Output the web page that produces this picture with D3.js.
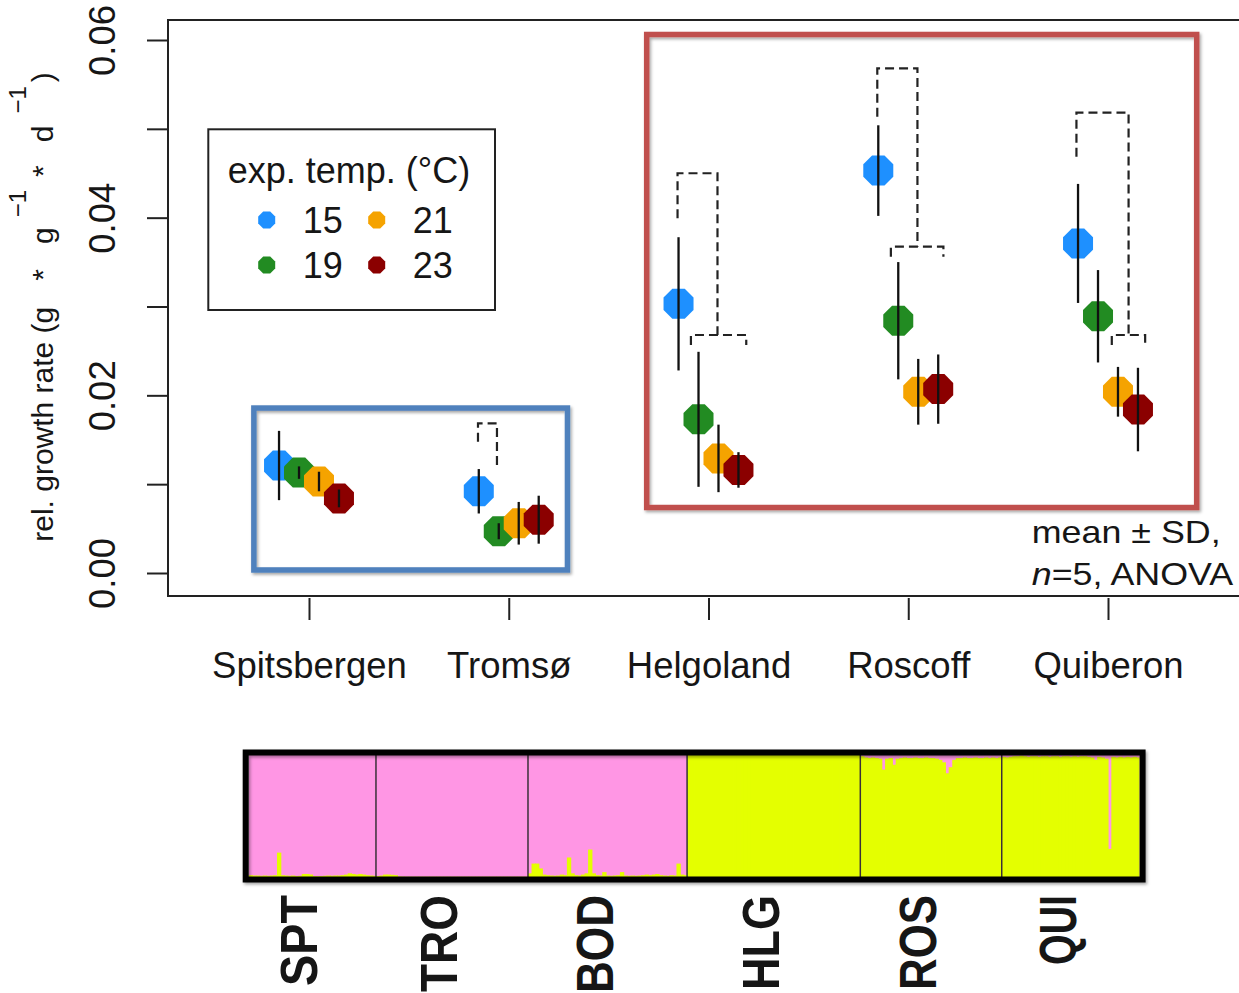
<!DOCTYPE html>
<html>
<head>
<meta charset="utf-8">
<script src="https://cdn.jsdelivr.net/npm/d3@7"></script>
<style>
  body { margin: 0; background: #fff; }
  svg { display: block; }
  text { font-family: "Liberation Sans", Arial, sans-serif; fill: #161616; }
</style>
</head>
<body>
<svg id="chart" width="1239" height="993"></svg>
<script>
// ---- growth experiment ----
const sites = ["Spitsbergen", "Tromsø", "Helgoland", "Roscoff", "Quiberon"];
const temps = [15, 19, 21, 23];
const tempColors = ["#1e90ff", "#228b22", "#f5a300", "#8b0000"];

// mean relative growth rate per site (g * g-1 * d-1), one array per temperature
const mean15 = [0.0121, 0.0092, 0.0303, 0.0453, 0.0371];
const mean19 = [0.0113, 0.0047, 0.0173, 0.0284, 0.0289];
const mean21 = [0.0103, 0.0056, 0.0129, 0.0204, 0.0204];
const mean23 = [0.0084, 0.0060, 0.0116, 0.0207, 0.0184];
// standard deviations, same layout
const sd15 = [0.0039, 0.0025, 0.0075, 0.0051, 0.0067];
const sd19 = [0.0007, 0.0009, 0.0076, 0.0066, 0.0052];
const sd21 = [0.0011, 0.0024, 0.0038, 0.0037, 0.0028];
const sd23 = [0.0010, 0.0027, 0.0020, 0.0039, 0.0047];

const yTicks = [0, 0.01, 0.02, 0.03, 0.04, 0.05, 0.06];
const yTickLabels = ["0.00", "", "0.02", "", "0.04", "", "0.06"];

// ANOVA grouping brackets: site index, x offsets (site units), top level and leg ends
const bracketSite = [1, 2, 2, 3, 3, 4, 4];
const bracketX1 = [-0.154, -0.155, -0.088, -0.155, -0.087, -0.158, 0.019];
const bracketX2 = [-0.059, 0.045, 0.189, 0.046, 0.176, 0.103, 0.186];
const bracketTop = [0.01685, 0.0450, 0.02679, 0.0568, 0.03673, 0.05182, 0.02679];
const bracketEnd1 = [0.01478, 0.03993, 0.02567, 0.05137, 0.03561, 0.04687, 0.02567];
const bracketEnd2 = [0.0116, 0.02679, 0.02567, 0.03673, 0.03561, 0.02679, 0.02567];

// ---- population structure (proportion of cluster 2 per individual) ----
const popNames = ["SPT", "TRO", "BOD", "HLG", "ROS", "QUI"];
const qSPT = [0.015, 0.012, 0.012, 0.01, 0.012, 0.01, 0.012, 0.015, 0.2, 0.015, 0.012, 0.01,
  0.012, 0.008, 0.01, 0.025, 0.025, 0.02, 0.008, 0.006, 0.008, 0.01, 0.012, 0.01,
  0.012, 0.012, 0.015, 0.02, 0.03, 0.025, 0.02, 0.025, 0.02, 0.015, 0.012, 0.01];
const qTRO = [0.008, 0.012, 0.02, 0.02, 0.018, 0.015, 0.004, 0.003, 0.002, 0.002, 0.002,
  0.002, 0.002, 0.002, 0.002, 0.002, 0.002, 0.002, 0.002, 0.002, 0.002, 0.002, 0.002,
  0.002, 0.002, 0.002, 0.002, 0.002, 0.002, 0.002, 0.002, 0.002, 0.002, 0.002, 0.002,
  0.002, 0.002, 0.002, 0.002, 0.002, 0.002, 0.002, 0.002];
const qBOD = [0.03, 0.11, 0.11, 0.07, 0.02, 0.015, 0.012, 0.01, 0.012, 0.02, 0.015, 0.16,
  0.03, 0.015, 0.012, 0.02, 0.03, 0.225, 0.03, 0.015, 0.012, 0.04, 0.012, 0.01, 0.012,
  0.015, 0.04, 0.012, 0.01, 0.012, 0.01, 0.012, 0.015, 0.02, 0.015, 0.02, 0.025, 0.015,
  0.012, 0.01, 0.015, 0.012, 0.11, 0.02, 0.015];
const qHLG = [1, 1, 1, 1, 1, 1, 1, 1, 1, 1, 1, 1, 1, 1, 1, 1, 1, 1, 1, 1, 1, 1, 1, 1, 1,
  1, 1, 1, 1, 1, 1, 1, 1, 1, 1, 1, 1, 1, 1, 1, 1, 1, 1, 1, 1, 1, 1, 1, 1];
const qROS = [0.99, 0.98, 0.975, 0.98, 0.975, 0.97, 0.88, 0.97, 0.975, 0.92, 0.97, 0.975,
  0.98, 0.975, 0.975, 0.98, 0.975, 0.975, 0.98, 0.975, 0.975, 0.97, 0.96, 0.94, 0.85,
  0.9, 0.96, 0.975, 0.975, 0.98, 0.975, 0.975, 0.98, 0.975, 0.975, 0.98, 0.975, 0.98,
  0.975, 0.98];
const qQUI = [0.985, 0.98, 0.985, 0.99, 0.99, 0.995, 0.99, 0.985, 0.99, 0.99, 0.985, 0.99,
  0.99, 0.985, 0.99, 0.99, 0.985, 0.99, 0.99, 0.985, 0.99, 0.985, 0.99, 0.99, 0.985,
  0.98, 0.96, 0.985, 0.98, 0.97, 0.23, 0.985, 0.98, 0.985, 0.98, 0.985, 0.98, 0.985, 0.98];

// ---- layout ----
const svg = d3.select("#chart");
const textColor = "#161616";
const frame = { left: 168, top: 20, right: 1300, bottom: 596 };

const defs = svg.append("defs");
const shadow = defs.append("filter").attr("id", "shadow")
  .attr("x", "-5%").attr("y", "-5%").attr("width", "110%").attr("height", "115%");
shadow.append("feDropShadow").attr("dx", 1.5).attr("dy", 2).attr("stdDeviation", 1.5)
  .attr("flood-color", "#000").attr("flood-opacity", 0.35);

const y = d3.scaleLinear().domain([0, 0.06]).range([573, 40]);
const x = d3.scaleLinear().domain([0, sites.length - 1]).range([309, 1108]);
const tempOffset = d3.scaleLinear().domain([0, temps.length - 1]).range([-0.15, 0.15]);

const means = [mean15, mean19, mean21, mean23];
const sds = [sd15, sd19, sd21, sd23];

// plot frame
svg.append("rect")
  .attr("x", frame.left).attr("y", frame.top)
  .attr("width", frame.right - frame.left).attr("height", frame.bottom - frame.top)
  .attr("fill", "none").attr("stroke", "#222").attr("stroke-width", 2);

// y axis
const yAxis = svg.append("g").attr("transform", `translate(${frame.left},0)`)
  .call(d3.axisLeft(y).tickValues(yTicks).tickSize(21).tickFormat((d, i) => yTickLabels[i]));
yAxis.attr("font-family", null);
yAxis.select(".domain").remove();
yAxis.selectAll(".tick line").attr("stroke", "#222").attr("stroke-width", 2);
yAxis.selectAll(".tick text")
  .attr("x", 0).attr("y", 0).attr("dy", 0)
  .attr("text-anchor", "middle")
  .attr("transform", "translate(-53,0) rotate(-90)")
  .attr("font-size", 36.5).attr("fill", textColor);

// x axis
const xAxis = svg.append("g").attr("transform", `translate(0,${frame.bottom + 2})`)
  .call(d3.axisBottom(x).tickValues(d3.range(sites.length)).tickSize(22).tickFormat(i => sites[i]));
xAxis.attr("font-family", null);
xAxis.select(".domain").remove();
xAxis.selectAll(".tick line").attr("stroke", "#222").attr("stroke-width", 2);
xAxis.selectAll(".tick text").attr("y", 80).attr("dy", 0)
  .attr("font-size", 36.5).attr("fill", textColor);

// y axis title with superscripts (plotmath-like spacing)
const yTitle = svg.append("text")
  .attr("transform", "translate(53,307) rotate(-90)")
  .attr("text-anchor", "middle").attr("font-size", 30);
yTitle.append("tspan").text("rel. growth rate (g");
yTitle.append("tspan").attr("dx", 26).text("*");
yTitle.append("tspan").attr("dx", 25).text("g");
yTitle.append("tspan").attr("font-size", 24).attr("dx", 10).attr("dy", -27).text("\u22121");
yTitle.append("tspan").attr("dx", 13).attr("dy", 27).text("*");
yTitle.append("tspan").attr("dx", 23).text("d");
yTitle.append("tspan").attr("font-size", 24).attr("dx", 12).attr("dy", -27).text("\u22121");
yTitle.append("tspan").attr("dx", 4).attr("dy", 27).text(")");

// highlight boxes around site groups
const highlightBoxes = [
  { x0: -0.276, x1: 1.294, y0: 0.00034, y1: 0.01857, color: "#4f81bd" },
  { x0: 1.6906, x1: 4.444, y0: 0.00737, y1: 0.06062, color: "#c0504d" }
];
svg.append("g").selectAll("rect").data(highlightBoxes).join("rect")
  .attr("x", d => x(d.x0)).attr("y", d => y(d.y1))
  .attr("width", d => x(d.x1) - x(d.x0)).attr("height", d => y(d.y0) - y(d.y1))
  .attr("fill", "none").attr("stroke", d => d.color).attr("stroke-width", 5.5)
  .attr("filter", "url(#shadow)");

// ANOVA brackets
const brackets = bracketSite.map((s, i) => ({
  xa: x(s + bracketX1[i]), xb: x(s + bracketX2[i]),
  top: y(bracketTop[i]), e1: y(bracketEnd1[i]), e2: y(bracketEnd2[i])
}));
svg.append("g").selectAll("path").data(brackets).join("path")
  .attr("d", b => `M${b.xa},${b.e1}V${b.top}H${b.xb}V${b.e2}`)
  .attr("fill", "none").attr("stroke", "#222").attr("stroke-width", 2.2)
  .attr("stroke-dasharray", "9,5");

// octagonal point markers
function octagon(cx, cy, flat) {
  const r = (flat / 2) / Math.cos(Math.PI / 8);
  const pts = d3.range(8).map(k => {
    const a = Math.PI / 8 + k * Math.PI / 4;
    return [cx + r * Math.cos(a), cy + r * Math.sin(a)];
  });
  return "M" + pts.map(p => p.join(",")).join("L") + "Z";
}

const pts = [];
sites.forEach((s, i) => {
  temps.forEach((t, j) => {
    pts.push({ site: i, temp: j, m: means[j][i], sd: sds[j][i] });
  });
});
const pointG = svg.append("g");
pts.forEach(p => {
  const cx = x(p.site + tempOffset(p.temp));
  pointG.append("path").attr("d", octagon(cx, y(p.m), 30)).attr("fill", tempColors[p.temp]);
  pointG.append("line")
    .attr("x1", cx).attr("x2", cx)
    .attr("y1", y(p.m - p.sd)).attr("y2", y(p.m + p.sd))
    .attr("stroke", "#111").attr("stroke-width", 2.3);
});

// legend
const legend = svg.append("g");
legend.append("rect").attr("x", 208.3).attr("y", 129.3).attr("width", 286.7).attr("height", 180.7)
  .attr("fill", "#fff").attr("stroke", "#222").attr("stroke-width", 2);
legend.append("text").attr("x", 349).attr("y", 183).attr("text-anchor", "middle")
  .attr("font-size", 36).text("exp. temp. (°C)");
temps.forEach((t, j) => {
  const col = Math.floor(j / 2), row = j % 2;
  const lx = 266.7 + col * 110, ly = 220 + row * 45;
  legend.append("path").attr("d", octagon(lx, ly, 17)).attr("fill", tempColors[j]);
  legend.append("text").attr("x", lx + 36).attr("y", ly + 13).attr("font-size", 36).text(t);
});

// statistics note
const note = svg.append("g").attr("transform", "translate(1031.7,0)");
note.append("text").attr("transform", "translate(0,542.7) scale(1.12,1)")
  .attr("font-size", 32).text("mean ± SD,");
const note2 = note.append("text").attr("transform", "translate(0,585) scale(1.12,1)")
  .attr("font-size", 32);
note2.append("tspan").attr("font-style", "italic").text("n");
note2.append("tspan").text("=5, ANOVA");

// ---- structure bar plot ----
const pops = [qSPT, qTRO, qBOD, qHLG, qROS, qQUI];
const individuals = [];
pops.forEach((arr, pi) => arr.forEach(q => individuals.push({ pop: pi, q })));
const xs = d3.scaleBand().domain(d3.range(individuals.length)).range([248.7, 1139.6]);
const ys = d3.scaleLinear().domain([0, 1]).range([877, 755]);
const pink = "#ff96e4", yellow = "#e4ff00";

const sg = svg.append("g");
// cluster 1 fills the panel, cluster 2 is stacked from the bottom per individual
sg.append("rect").attr("x", xs.range()[0]).attr("y", ys(1))
  .attr("width", xs.range()[1] - xs.range()[0]).attr("height", ys(0) - ys(1))
  .attr("fill", pink);
sg.selectAll("rect.q").data(individuals).join("rect").attr("class", "q")
  .attr("x", (d, i) => xs(i)).attr("width", (d, i) => xs.bandwidth() + (i < individuals.length - 1 ? 0.8 : 0))
  .attr("y", d => ys(d.q)).attr("height", d => ys(0) - ys(d.q))
  .attr("fill", yellow);

// population boundaries
let cum = 0;
const bounds = [];
const centers = [];
pops.forEach((arr, pi) => {
  centers.push(xs(cum) + arr.length * xs.step() / 2);
  cum += arr.length;
  if (pi < pops.length - 1) bounds.push(xs(cum));
});
sg.selectAll("line.div").data(bounds).join("line").attr("class", "div")
  .attr("x1", d => d).attr("x2", d => d).attr("y1", ys(1)).attr("y2", ys(0))
  .attr("stroke", "#3a3038").attr("stroke-width", 1.5);

sg.append("rect")
  .attr("x", xs.range()[0] - 3).attr("y", ys(1) - 2.5)
  .attr("width", xs.range()[1] - xs.range()[0] + 6).attr("height", ys(0) - ys(1) + 5)
  .attr("fill", "none").attr("stroke", "#000").attr("stroke-width", 6)
  .attr("filter", "url(#shadow)");

// population labels
const popLabelLength = [91, 97, 98, 95, 95, 70];
svg.append("g").selectAll("text").data(popNames).join("text")
  .attr("transform", (d, i) => `translate(${centers[i] + 5},895) scale(1.12,1) rotate(-90)`)
  .attr("text-anchor", "end")
  .attr("font-weight", "bold").attr("font-size", 46).attr("fill", "#000")
  .attr("textLength", (d, i) => popLabelLength[i])
  .attr("lengthAdjust", "spacingAndGlyphs")
  .text(d => d);
</script>
</body>
</html>
